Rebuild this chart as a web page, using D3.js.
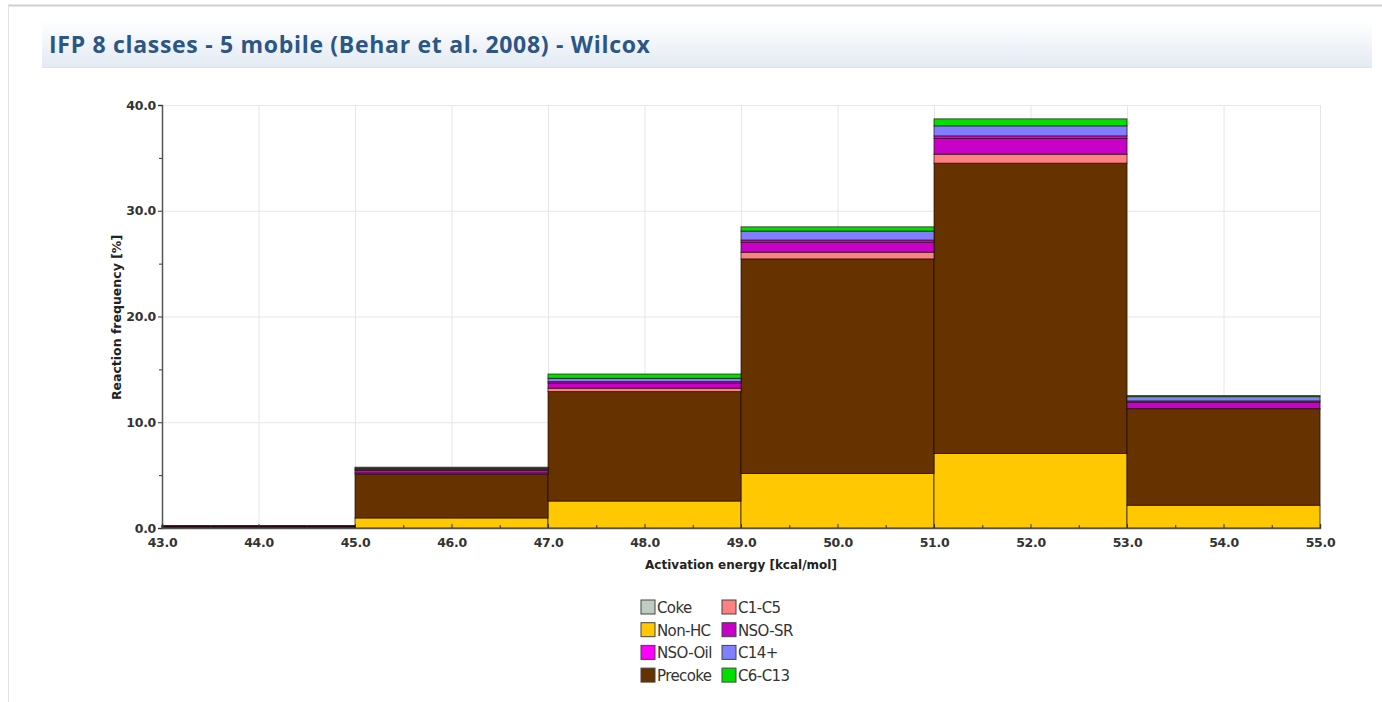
<!DOCTYPE html>
<html>
<head>
<meta charset="utf-8">
<script src="https://cdn.jsdelivr.net/npm/d3@7"></script>
<style>
  html, body { margin: 0; padding: 0; background: #fff; }
  svg { display: block; }
</style>
</head>
<body>
<svg id="chart" width="1382" height="702"></svg>
<script>
// Activation-energy distribution, 2 kcal/mol bins, stacked by kinetic class
const binStarts = [43, 45, 47, 49, 51, 53];
const binWidth = 2;

const nonHC  = [0.03, 0.95, 2.55, 5.15, 7.05, 2.15];
const precoke = [0.12, 4.15, 10.35, 20.30, 27.45, 9.05];
const c1c5   = [0.01, 0.10, 0.32, 0.63, 0.85, 0.10];
const nsoSR  = [0.02, 0.25, 0.50, 0.95, 1.50, 0.60];
const nsoOil = [0.01, 0.10, 0.12, 0.20, 0.23, 0.12];
const c14p   = [0.01, 0.10, 0.32, 0.85, 0.95, 0.40];
const c6c13  = [0.01, 0.10, 0.40, 0.40, 0.66, 0.10];
const coke   = [0, 0, 0, 0, 0, 0];

const xTicks = [43, 44, 45, 46, 47, 48, 49, 50, 51, 52, 53, 54, 55];
const yTicks = [0, 10, 20, 30, 40];

// stacking order, bottom to top
const series = [
  { name: "Non-HC",  values: nonHC,   color: "#ffc800" },
  { name: "Precoke", values: precoke, color: "#663300" },
  { name: "C1-C5",   values: c1c5,    color: "#ff8080" },
  { name: "NSO-SR",  values: nsoSR,   color: "#c800c8" },
  { name: "NSO-Oil", values: nsoOil,  color: "#ff00ff" },
  { name: "C14+",    values: c14p,    color: "#8080ff" },
  { name: "C6-C13",  values: c6c13,   color: "#00e000" },
  { name: "Coke",    values: coke,    color: "#c0ccc0" }
];

// legend reads row by row in two columns
const legendOrder = ["Coke", "C1-C5", "Non-HC", "NSO-SR", "NSO-Oil", "C14+", "Precoke", "C6-C13"];

const svg = d3.select("#chart");

// outer panel frame
svg.append("line").attr("x1", 8).attr("x2", 1382).attr("y1", 5.5).attr("y2", 5.5)
  .attr("stroke", "#cfcfcf").attr("stroke-width", 2);
svg.append("line").attr("x1", 8.5).attr("x2", 8.5).attr("y1", 5).attr("y2", 702)
  .attr("stroke", "#e2e2e2").attr("stroke-width", 1);

// title band
const defs = svg.append("defs");
const grad = defs.append("linearGradient").attr("id", "titleGrad")
  .attr("x1", 0).attr("y1", 0).attr("x2", 0).attr("y2", 1);
grad.append("stop").attr("offset", "0%").attr("stop-color", "#ffffff");
grad.append("stop").attr("offset", "100%").attr("stop-color", "#e3eaf3");
svg.append("rect").attr("x", 42).attr("y", 20).attr("width", 1330).attr("height", 48)
  .attr("fill", "url(#titleGrad)");
svg.append("line").attr("x1", 42).attr("x2", 1372).attr("y1", 67.5).attr("y2", 67.5)
  .attr("stroke", "#dde4ee");
svg.append("text").attr("x", 49).attr("y", 53)
  .attr("font-family", "'Open Sans', sans-serif").attr("font-weight", "bold")
  .attr("font-size", 23).attr("letter-spacing", 0.7).attr("fill", "#2b5685")
  .text("IFP 8 classes - 5 mobile (Behar et al. 2008) - Wilcox");

// plot geometry
const plot = { left: 162, right: 1320, top: 105, bottom: 528 };
const x = d3.scaleLinear().domain([43, 55]).range([plot.left, plot.right]);
const y = d3.scaleLinear().domain([0, 40]).range([plot.bottom, plot.top]);

// grid
const g = svg.append("g");
g.selectAll("line.vgrid").data(xTicks.slice(1)).join("line").attr("class", "vgrid")
  .attr("x1", d => x(d) + 0.5).attr("x2", d => x(d) + 0.5)
  .attr("y1", plot.top).attr("y2", plot.bottom)
  .attr("stroke", "#e6e6e6");
g.selectAll("line.hgrid").data(yTicks.slice(1)).join("line").attr("class", "hgrid")
  .attr("x1", plot.left).attr("x2", plot.right)
  .attr("y1", d => y(d) + 0.5).attr("y2", d => y(d) + 0.5)
  .attr("stroke", "#e6e6e6");

// stacked bars
const rows = binStarts.map((b, i) => {
  const r = { bin: b };
  series.forEach(s => { r[s.name] = s.values[i]; });
  return r;
});
const stack = d3.stack().keys(series.map(s => s.name));
const layers = stack(rows);

const barsG = svg.append("g");
layers.forEach((layer, li) => {
  barsG.selectAll(null).data(layer.filter(d => d[1] - d[0] > 0)).join("rect")
    .attr("x", d => x(d.data.bin))
    .attr("width", d => x(d.data.bin + binWidth) - x(d.data.bin))
    .attr("y", d => y(d[1]))
    .attr("height", d => y(d[0]) - y(d[1]))
    .attr("fill", series[li].color)
    .attr("stroke", "#1a0a00").attr("stroke-width", 0.9).attr("stroke-opacity", 0.75);
});

// axes
const tickFont = "'DejaVu Sans', sans-serif";
const yAxis = d3.axisLeft(y).tickValues(yTicks).tickFormat(d3.format(".1f")).tickSize(4).tickPadding(2);
const yAx = svg.append("g").attr("transform", `translate(${plot.left},0)`).call(yAxis);
const yMinor = d3.axisLeft(y).tickValues([5, 15, 25, 35]).tickFormat("").tickSize(3);
svg.append("g").attr("transform", `translate(${plot.left},0)`).call(yMinor)
  .call(a => a.select(".domain").remove());

const xAxis = d3.axisBottom(x).tickValues(xTicks).tickFormat(d3.format(".1f")).tickSize(-4).tickPadding(10);
const xAx = svg.append("g").attr("transform", `translate(0,${plot.bottom})`).call(xAxis);
const xMinor = d3.axisBottom(x).tickValues(d3.range(43.5, 55, 1)).tickFormat("").tickSize(-3);
svg.append("g").attr("transform", `translate(0,${plot.bottom})`).call(xMinor)
  .call(a => a.select(".domain").remove());

svg.selectAll(".tick line").attr("stroke", "#333");
[yAx, xAx].forEach(a => {
  a.select(".domain").attr("stroke", "#555").attr("stroke-width", 1.5);
  a.selectAll("text").attr("font-family", tickFont).attr("font-weight", "bold")
    .attr("font-size", 12.5).attr("letter-spacing", -0.3).attr("fill", "#333");
});

// axis titles
svg.append("text").attr("x", (plot.left + plot.right) / 2).attr("y", 569)
  .attr("text-anchor", "middle").attr("font-family", tickFont).attr("font-weight", "bold")
  .attr("font-size", 12).attr("fill", "#222").text("Activation energy [kcal/mol]");
svg.append("text").attr("transform", `translate(121,${(plot.top + plot.bottom) / 2 + 1}) rotate(-90)`)
  .attr("text-anchor", "middle").attr("font-family", tickFont).attr("font-weight", "bold")
  .attr("font-size", 12.5).attr("fill", "#222").text("Reaction frequency [%]");

// legend
const legend = svg.append("g");
legendOrder.forEach((name, i) => {
  const s = series.find(d => d.name === name);
  const col = i % 2, row = Math.floor(i / 2);
  const lx = 641 + col * 81, ly = 600 + row * 22.7;
  legend.append("rect").attr("x", lx).attr("y", ly).attr("width", 14).attr("height", 14)
    .attr("fill", s.color).attr("stroke", "#444").attr("stroke-width", 1);
  legend.append("text").attr("x", lx + 16).attr("y", ly + 13)
    .attr("font-family", tickFont).attr("font-size", 15).attr("fill", "#333")
    .attr("letter-spacing", -0.6).text(name);
});
</script>
</body>
</html>
